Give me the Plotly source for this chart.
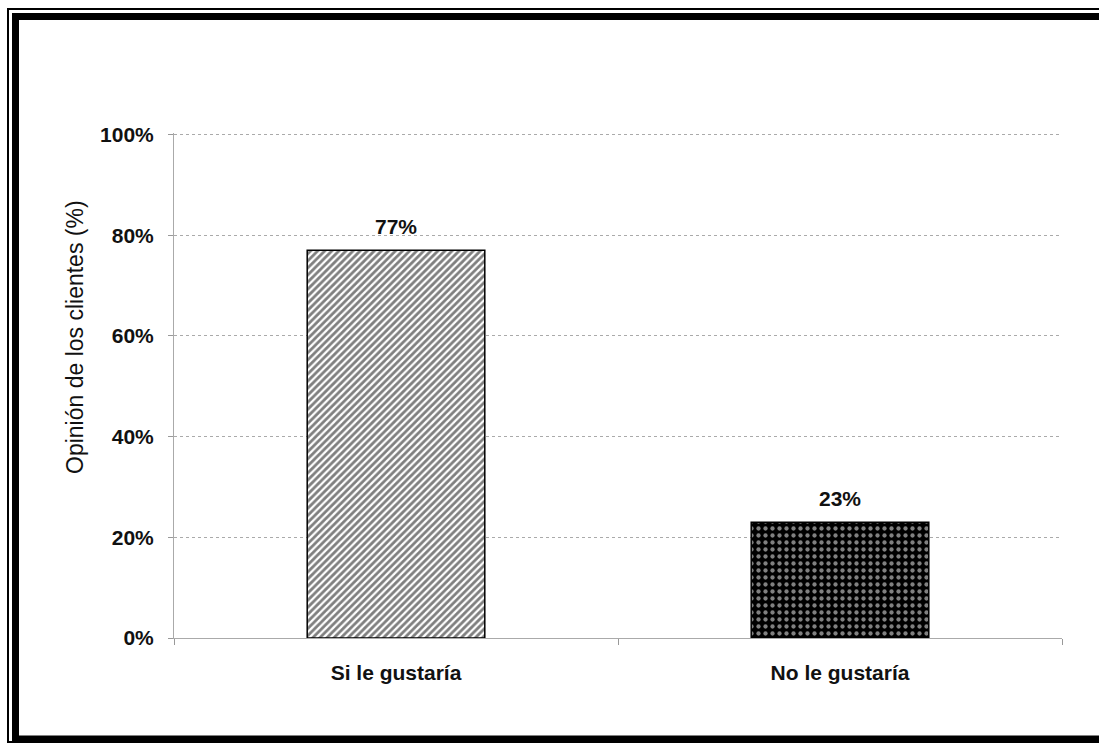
import plotly.graph_objects as go

categories = ["Si le gustaría", "No le gustaría"]
values = [0.77, 0.23]
labels = ["77%", "23%"]
y_ticks = [0, 0.2, 0.4, 0.6, 0.8, 1.0]
y_tick_text = ["0%", "20%", "40%", "60%", "80%", "100%"]
y_title = "Opinión de los clientes (%)"

W, H = 1099, 744
L, R, T, B = 174, 37, 133, 106
pw, ph = W - L - R, H - T - B

def px(x):
    return (x - L) / pw

def py(y):
    return (H - B - y) / ph

FONT = "Liberation Sans, Arial, sans-serif"

fig = go.Figure()
fig.add_trace(go.Bar(
    x=[categories[0]], y=[values[0]], width=0.4,
    marker=dict(color="white", line=dict(color="black", width=1.5),
                pattern=dict(shape="/", fgcolor="black", bgcolor="white",
                             size=5, solidity=0.55)),
    showlegend=False,
))
fig.add_trace(go.Bar(
    x=[categories[1]], y=[values[1]], width=0.4,
    marker=dict(color="black", line=dict(color="black", width=1.5),
                pattern=dict(shape=".", fgcolor="white", bgcolor="black",
                             size=7, solidity=0.3)),
    showlegend=False,
))

annotations = [
    dict(x=c, y=v, text="<b>" + t + "</b>", showarrow=False,
         xref="x", yref="y", yanchor="bottom", yshift=10,
         font=dict(family=FONT, size=21, color="#111"))
    for c, v, t in zip(categories, values, labels)
]
annotations.append(dict(
    text=y_title, textangle=-90, showarrow=False,
    xref="paper", yref="paper", x=px(75), y=py(337),
    xanchor="center", yanchor="middle",
    font=dict(family=FONT, size=23, color="#111"),
))

fig.update_layout(
    width=W, height=H,
    margin=dict(l=L, r=R, t=T, b=B, pad=0),
    paper_bgcolor="white", plot_bgcolor="white",
    barmode="overlay",
    font=dict(family=FONT, color="#111"),
    annotations=annotations,
    xaxis=dict(
        categoryorder="array", categoryarray=categories,
        tickmode="array", tickvals=categories,
        ticktext=["<b>" + c + "</b>" for c in categories],
        tickson="boundaries", ticks="outside", ticklen=6,
        tickcolor="#999", tickfont=dict(family=FONT, size=21, color="#111"),
        ticklabelstandoff=16,
        showline=True, linecolor="#aaa", linewidth=1,
        showgrid=False, range=[-0.5, 1.5],
    ),
    yaxis=dict(
        range=[0, 1.003], tickmode="array", tickvals=y_ticks,
        ticktext=["<b>" + t + "</b>" for t in y_tick_text],
        ticks="outside", ticklen=5, tickcolor="#999",
        tickfont=dict(family=FONT, size=21, color="#111"),
        ticklabelstandoff=10,
        showline=True, linecolor="#aaa", linewidth=1,
        showgrid=True, gridcolor="#aaa", griddash="dot", gridwidth=1,
        zeroline=False,
    ),
    shapes=[
        dict(type="rect", xref="paper", yref="paper",
             x0=px(8), x1=px(1104), y0=py(742), y1=py(9),
             line=dict(color="black", width=2), fillcolor="rgba(0,0,0,0)"),
        dict(type="rect", xref="paper", yref="paper",
             x0=px(15.5), x1=px(1110), y0=py(739), y1=py(16.5),
             line=dict(color="black", width=7), fillcolor="rgba(0,0,0,0)"),
    ],
)

fig.write_html("out.html")
